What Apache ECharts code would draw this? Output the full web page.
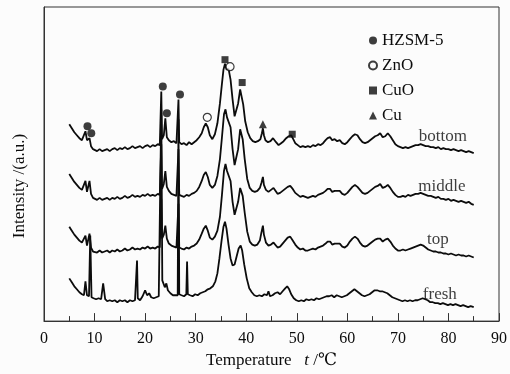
<!DOCTYPE html>
<html>
<head>
<meta charset="utf-8">
<script src="https://cdn.jsdelivr.net/npm/echarts@6/dist/echarts.min.js"></script>
<style>
  html, body { margin: 0; padding: 0; background: #fcfcfc; }
  #chart { width: 510px; height: 374px; }
</style>
</head>
<body>
<div id="chart"></div>
<script>
// ---- data: [2theta, intensity (a.u.)] ----
const bottomCurve = [
  [5.0,198],[5.5,194],[6.0,190],[6.5,187],[7.0,184],[7.5,182],[7.8,181],[8.2,191],[8.5,182],[9.0,184],[9.3,176],[9.7,173],
  [10.0,172],[10.5,171],[11.0,173],[11.5,171],[12.0,172],[12.5,173],[13.0,171],[13.5,173],[14.0,174],[14.5,172],[15.0,174],[15.5,173],
  [16.0,175],[16.5,173],[17.0,174],[17.5,176],[18.0,174],[18.5,175],[19.0,176],[19.5,174],[20.0,176],[20.5,177],[21.0,175],[21.5,177],
  [22.0,176],[22.5,178],[22.9,177],[23.2,231],[23.35,183],[23.7,187],[24.0,204],[24.3,185],[24.7,182],[25.2,180],[25.7,181],[26.2,179],
  [26.45,179],[26.6,223],[26.75,180],[27.2,178],[27.7,179],[28.2,177],[28.7,180],[29.2,178],[29.7,180],[30.2,182],[30.7,185],[31.2,189],
  [31.6,195],[32.0,199],[32.4,195],[32.8,187],[33.3,183],[33.8,188],[34.3,199],[34.8,219],[35.2,239],[35.5,253],[35.8,259],[36.1,253],
  [36.5,254],[36.9,243],[37.3,223],[37.7,206],[38.0,205],[38.4,219],[38.8,233],[39.0,235],[39.4,218],[39.8,201],[40.3,190],[40.8,184],
  [41.3,181],[41.8,180],[42.3,181],[42.8,183],[43.1,189],[43.3,194],[43.5,187],[43.8,182],[44.3,180],[44.8,181],[45.3,184],[45.6,185],
  [45.9,180],[46.4,177],[46.9,179],[47.4,181],[47.9,184],[48.4,186],[48.9,187],[49.3,183],[49.7,179],[50.2,177],[50.7,175],[51.2,176],
  [51.7,175],[52.2,176],[52.7,175],[53.2,177],[53.7,176],[54.2,178],[54.7,177],[55.2,179],[55.7,182],[56.1,184],[56.6,185],[57.0,182],
  [57.5,183],[58.0,181],[58.5,182],[59.0,179],[59.5,178],[60.0,180],[60.5,183],[61.0,186],[61.5,188],[62.0,187],[62.5,183],[63.0,180],
  [63.5,179],[64.0,180],[64.5,182],[65.0,184],[65.5,186],[66.0,187],[66.5,189],[67.0,185],[67.5,186],[68.0,189],[68.5,186],[69.0,182],
  [69.5,178],[70.0,176],[70.5,175],[71.0,174],[71.5,175],[72.0,174],[72.5,175],[73.0,176],[73.5,177],[74.0,177],[74.5,178],[75.0,177],
  [75.5,176],[76.0,176],[76.5,175],[77.0,175],[77.5,174],[78.0,175],[78.5,173],[79.0,174],[79.5,173],[80.0,173],[80.5,172],[81.0,173],
  [81.5,172],[82.0,171],[82.5,172],[83.0,171],[83.5,170],[84.0,171],[84.5,170],[85.0,169]
];

const middleCurve = [
  [5.0,148],[5.5,144],[6.0,140],[6.5,137],[7.0,134],[7.5,132],[7.8,131],[8.2,141],[8.5,130],[9.0,141],[9.3,128],[9.7,124],
  [10.0,123],[10.5,122],[11.0,124],[11.5,122],[12.0,123],[12.5,124],[13.0,122],[13.5,124],[14.0,123],[14.5,125],[15.0,123],[15.5,124],
  [16.0,126],[16.5,124],[17.0,125],[17.5,127],[18.0,125],[18.5,126],[19.0,125],[19.5,127],[20.0,126],[20.5,128],[21.0,126],[21.5,127],
  [22.0,126],[22.5,128],[22.9,127],[23.2,178],[23.35,133],[23.7,138],[24.0,151],[24.3,135],[24.7,131],[25.2,128],[25.7,127],[26.2,126],
  [26.45,127],[26.6,173],[26.75,127],[27.2,126],[27.7,125],[28.2,127],[28.7,126],[29.2,128],[29.7,129],[30.2,131],[30.7,135],[31.2,141],
  [31.6,147],[32.0,150],[32.4,145],[32.8,137],[33.3,134],[33.8,137],[34.3,146],[34.8,163],[35.2,185],[35.6,208],[35.9,213],[36.2,205],
  [36.5,207],[36.9,195],[37.3,173],[37.7,157],[38.0,156],[38.4,173],[38.8,193],[39.0,195],[39.3,183],[39.7,163],[40.2,143],[40.7,134],
  [41.2,131],[41.7,130],[42.2,131],[42.7,134],[43.0,139],[43.3,145],[43.5,137],[43.9,132],[44.4,130],[44.9,132],[45.4,134],[45.7,132],
  [46.2,128],[46.7,129],[47.2,131],[47.7,133],[48.2,135],[48.7,136],[49.2,133],[49.7,129],[50.2,127],[50.7,125],[51.2,126],[51.7,125],
  [52.2,124],[52.7,125],[53.2,126],[53.7,125],[54.2,127],[54.7,128],[55.2,129],[55.7,131],[56.1,133],[56.6,133],[57.0,130],[57.5,131],
  [58.0,131],[58.5,131],[59.0,128],[59.5,127],[60.0,129],[60.5,132],[61.0,135],[61.5,137],[62.0,135],[62.5,132],[63.0,129],[63.5,128],
  [64.0,129],[64.5,131],[65.0,133],[65.5,135],[66.0,136],[66.5,138],[67.0,134],[67.5,135],[68.0,137],[68.5,134],[69.0,130],[69.5,127],
  [70.0,125],[70.5,125],[71.0,126],[71.5,125],[72.0,127],[72.5,126],[73.0,127],[73.5,128],[74.0,128],[74.5,129],[75.0,128],[75.5,127],
  [76.0,126],[76.5,126],[77.0,125],[77.5,124],[78.0,125],[78.5,123],[79.0,123],[79.5,122],[80.0,123],[80.5,121],[81.0,122],[81.5,121],
  [82.0,120],[82.5,121],[83.0,120],[83.5,119],[84.0,120],[84.5,118],[85.0,117]
];

const topCurve = [
  [5.0,95],[5.5,91],[6.0,87],[6.5,84],[7.0,81],[7.5,79],[7.8,77],[8.2,86],[8.5,76],[9.0,88],[9.3,74],[9.7,70],
  [10.0,70],[10.5,69],[11.0,71],[11.5,69],[12.0,70],[12.5,71],[13.0,69],[13.5,71],[14.0,70],[14.5,72],[15.0,70],[15.5,71],
  [16.0,73],[16.5,71],[17.0,72],[17.5,74],[18.0,72],[18.5,73],[19.0,72],[19.5,74],[20.0,73],[20.5,75],[21.0,73],[21.5,74],
  [22.0,73],[22.5,75],[22.9,74],[23.2,123],[23.35,83],[23.7,87],[24.0,96],[24.3,83],[24.7,78],[25.2,76],[25.7,75],[26.2,74],
  [26.45,74],[26.6,118],[26.75,74],[27.2,73],[27.7,72],[28.2,74],[28.7,73],[29.2,75],[29.7,76],[30.2,78],[30.7,82],[31.2,88],
  [31.6,93],[32.0,96],[32.4,91],[32.8,84],[33.3,82],[33.8,85],[34.3,91],[34.8,105],[35.2,127],[35.6,151],[35.9,158],[36.2,151],
  [36.5,152],[36.9,141],[37.3,120],[37.7,107],[38.0,106],[38.4,120],[38.8,134],[39.0,136],[39.3,126],[39.7,109],[40.2,90],[40.7,80],
  [41.2,77],[41.7,76],[42.2,77],[42.7,81],[43.0,89],[43.3,96],[43.5,87],[43.9,79],[44.4,76],[44.9,77],[45.4,79],[45.7,77],
  [46.2,74],[46.7,75],[47.2,78],[47.7,81],[48.2,84],[48.7,85],[49.2,81],[49.7,77],[50.2,74],[50.7,72],[51.2,73],[51.7,71],
  [52.2,71],[52.7,72],[53.2,73],[53.7,72],[54.2,74],[54.7,75],[55.2,76],[55.7,78],[56.1,80],[56.6,80],[57.0,77],[57.5,78],
  [58.0,78],[58.5,78],[59.0,75],[59.5,74],[60.0,76],[60.5,80],[61.0,83],[61.5,85],[62.0,83],[62.5,79],[63.0,76],[63.5,75],
  [64.0,76],[64.5,78],[65.0,80],[65.5,82],[66.0,83],[66.5,83],[67.0,80],[67.5,82],[68.0,83],[68.5,80],[69.0,76],[69.5,73],
  [70.0,71],[70.5,71],[71.0,72],[71.5,71],[72.0,72],[72.5,73],[73.0,74],[73.5,75],[74.0,76],[74.5,77],[75.0,76],[75.5,74],
  [76.0,72],[76.5,71],[77.0,70],[77.5,70],[78.0,69],[78.5,69],[79.0,68],[79.5,68],[80.0,67],[80.5,68],[81.0,67],[81.5,66],
  [82.0,67],[82.5,66],[83.0,66],[83.5,65],[84.0,66],[84.5,65],[85.0,64]
];

const freshCurve = [
  [5.0,43],[5.5,39],[6.0,35],[6.5,32],[7.0,29],[7.5,27],[7.9,26],[8.2,40],[8.5,26],[8.9,25],[9.15,86],[9.4,24],[9.8,23],
  [10.3,22],[10.8,23],[11.3,22],[11.7,38],[12.1,22],[12.5,20],[13.0,21],[13.5,20],[14.0,21],[14.5,19],[15.0,21],[15.5,20],
  [16.0,21],[16.5,19],[17.0,21],[17.5,20],[18.0,21],[18.25,22],[18.4,61],[18.55,23],[19.0,21],[19.5,25],[20.0,31],[20.4,26],
  [20.8,28],[21.2,24],[21.7,23],[22.2,24],[22.7,25],[23.0,27],[23.2,213],[23.4,41],[23.6,43],[23.9,34],[24.2,38],[24.5,31],
  [25.0,28],[25.5,26],[26.0,26],[26.45,26],[26.6,203],[26.75,27],[27.2,26],[27.7,25],[28.15,27],[28.3,60],[28.45,27],[28.9,26],
  [29.4,25],[29.9,27],[30.4,26],[30.9,28],[31.4,29],[31.9,30],[32.4,32],[32.9,33],[33.4,35],[33.9,40],[34.3,48],[34.7,63],
  [35.1,80],[35.5,95],[35.8,100],[36.1,93],[36.5,77],[36.9,63],[37.3,56],[37.7,57],[38.1,65],[38.5,73],[38.9,76],[39.2,71],
  [39.6,57],[40.1,43],[40.6,33],[41.1,29],[41.6,26],[42.1,25],[42.6,26],[43.1,25],[43.6,27],[44.1,26],[44.4,30],[44.7,25],
  [45.2,26],[45.7,28],[46.2,29],[46.7,27],[47.2,30],[47.7,33],[48.1,35],[48.5,32],[48.9,27],[49.4,23],[49.9,21],[50.4,20],
  [50.9,21],[51.4,20],[51.9,22],[52.4,21],[52.9,22],[53.4,21],[53.9,23],[54.4,22],[54.9,23],[55.4,24],[55.9,25],[56.4,25],
  [56.9,26],[57.4,24],[57.9,26],[58.4,25],[58.9,24],[59.4,25],[59.9,26],[60.4,28],[60.9,30],[61.4,32],[61.9,30],[62.4,28],
  [62.9,26],[63.4,25],[63.9,26],[64.4,27],[64.9,29],[65.4,31],[65.9,31],[66.4,30],[66.9,30],[67.4,29],[67.9,28],[68.4,26],
  [68.9,24],[69.4,23],[69.9,22],[70.4,21],[70.9,20],[71.4,21],[71.9,20],[72.4,21],[72.9,20],[73.4,21],[73.9,21],[74.4,22],
  [74.9,23],[75.4,22],[75.9,21],[76.4,19],[76.9,19],[77.4,18],[77.9,18],[78.4,17],[78.9,18],[79.4,17],[79.9,16],[80.4,17],
  [80.9,16],[81.4,17],[81.9,16],[82.4,15],[82.9,16],[83.4,15],[83.9,14],[84.4,15],[85.0,14]
];

// phase markers placed on the bottom curve's peaks
const hzsmPeaks = [[8.6,196],[9.35,189],[23.5,236],[24.3,209],[26.9,228]];
const znoPeaks = [[32.3,205],[36.8,256]];
const cuoPeaks = [[35.8,263],[39.2,240],[49.1,188]];
const cuPeaks = [[43.3,198]];

const sampleNames = ['bottom', 'middle', 'top', 'fresh'];
const sampleLabelPos = [[78.9,186],[78.7,135],[77.9,82],[78.3,27]];

const SERIF = '"Liberation Serif", "DejaVu Serif", serif';
const INK = '#0c0c0c';

const chart = echarts.init(document.getElementById('chart'));

function curve(name, data) {
  return {
    name: name,
    type: 'line',
    data: data,
    showSymbol: false,
    symbol: 'none',
    silent: true,
    lineStyle: { color: INK, width: 1.8 },
    z: 2
  };
}

function markers(name, symbol, size, data) {
  const open = symbol === 'emptyCircle';
  return {
    name: name,
    type: 'scatter',
    symbol: open ? 'circle' : symbol,
    symbolSize: size,
    data: data,
    silent: true,
    itemStyle: open
      ? { color: '#fcfcfc', borderColor: INK, borderWidth: 1.2 }
      : { color: INK },
    z: 5
  };
}

chart.setOption({
  animation: false,
  backgroundColor: '#fcfcfc',
  grid: {
    left: 44, right: 11, top: 7, bottom: 51,
    show: true, borderColor: '#333', borderWidth: 1, backgroundColor: 'transparent'
  },
  legend: {
    orient: 'vertical',
    left: 363,
    top: 27,
    itemGap: 8,
    itemWidth: 8,
    itemHeight: 8,
    textStyle: { fontFamily: SERIF, fontSize: 17, color: INK },
    data: ['HZSM-5', 'ZnO', 'CuO', 'Cu'],
    selectedMode: false
  },
  xAxis: {
    type: 'value',
    min: 0,
    max: 90,
    interval: 10,
    name: 'Temperature   {i|t} /℃',
    nameLocation: 'middle',
    nameGap: 30,
    nameTextStyle: {
      fontFamily: SERIF, fontSize: 17, color: INK,
      rich: { i: { fontFamily: SERIF, fontSize: 17, fontStyle: 'italic', color: INK } }
    },
    axisLine: { lineStyle: { color: '#333', width: 1 } },
    axisTick: { inside: true, length: 8, lineStyle: { color: '#333' } },
    minorTick: { show: true, splitNumber: 2, length: 5, lineStyle: { color: '#333' } },
    axisLabel: { fontFamily: SERIF, fontSize: 16, color: INK, margin: 10 },
    splitLine: { show: false }
  },
  yAxis: {
    type: 'value',
    min: 0,
    max: 316,
    axisLine: { show: true, lineStyle: { color: '#333' } },
    axisTick: { show: false },
    axisLabel: { show: false },
    splitLine: { show: false }
  },
  graphic: [{
    type: 'text',
    x: 20,
    y: 186,
    rotation: Math.PI / 2,
    style: {
      text: 'Intensity /(a.u.)',
      font: '17px ' + SERIF,
      fill: INK,
      textAlign: 'center',
      textVerticalAlign: 'middle'
    }
  }],
  series: [
    curve('bottom', bottomCurve),
    curve('middle', middleCurve),
    curve('top', topCurve),
    curve('fresh', freshCurve),
    markers('HZSM-5', 'circle', 8, hzsmPeaks),
    markers('ZnO', 'emptyCircle', 8, znoPeaks),
    markers('CuO', 'rect', 7, cuoPeaks),
    markers('Cu', 'triangle', 8, cuPeaks),
    {
      name: 'labels',
      type: 'scatter',
      symbolSize: 0,
      silent: true,
      data: sampleNames.map((n, i) => ({ name: n, value: sampleLabelPos[i] })),
      label: {
        show: true,
        position: 'inside',
        formatter: p => p.name,
        fontFamily: SERIF,
        fontSize: 17,
        color: INK
      }
    }
  ]
});
</script>
</body>
</html>
